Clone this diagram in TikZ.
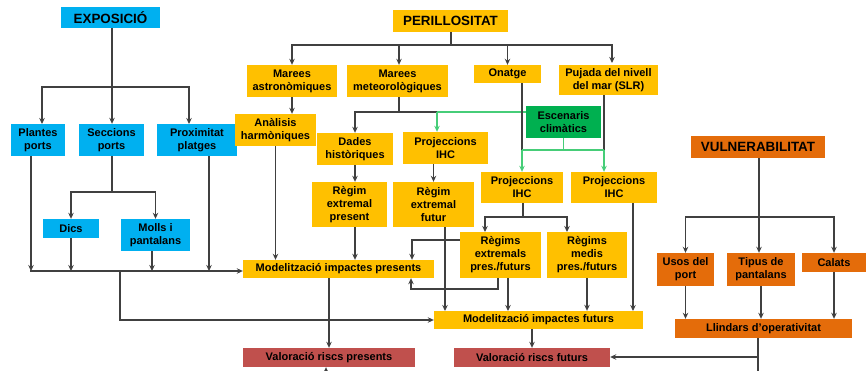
\documentclass[tikz,border=0pt]{standalone}
\usepackage{fontspec}
\setmainfont{Liberation Sans}
\usetikzlibrary{arrows.meta}
\definecolor{cblue}{HTML}{00B0F0}
\definecolor{cyel}{HTML}{FFC000}
\definecolor{cgreen}{HTML}{00B050}
\definecolor{corange}{HTML}{E46C0A}
\definecolor{cred}{HTML}{C0504D}
\definecolor{cline}{HTML}{404040}
\definecolor{cgline}{RGB}{70,205,120}
\begin{document}
\begin{tikzpicture}[x=1pt,y=-1pt,
  box/.style={inner sep=0pt,align=center,text=black,font=\fontsize{11}{13}\selectfont\bfseries},
  head/.style={box,font=\fontsize{13.4}{15}\selectfont\bfseries},
  bl/.style={fill=cblue},
  ye/.style={fill=cyel},
  gr/.style={fill=cgreen},
  orb/.style={fill=corange},
  rd/.style={fill=cred},
  ln/.style={draw=cline,line width=1.4pt},
  arr/.style={ln,-{Stealth[length=6pt,width=5.5pt]}},
  gln/.style={draw=cgline,line width=1.4pt},
  garr/.style={gln,-{Stealth[length=6pt,width=5.5pt]}}]
\useasboundingbox (0,0) rectangle (866,371);

% ---- EXPOSICIO ----
\node[head,bl,minimum width=99,minimum height=21] (expo) at (110.5,17.5) {EXPOSICIÓ};
\node[box,bl,minimum width=54,minimum height=32] (plantes) at (38,140) {Plantes\\ports};
\node[box,bl,minimum width=65,minimum height=32] (seccions) at (111.5,140) {Seccions\\ports};
\node[box,bl,minimum width=80,minimum height=32] (proxim) at (197,140) {Proximitat\\platges};
\node[box,bl,minimum width=56,minimum height=19] (dics) at (71,228.5) {Dics};
\node[box,bl,minimum width=69,minimum height=32] (molls) at (155.5,235) {Molls i\\pantalans};

% ---- PERILLOSITAT ----
\node[head,ye,minimum width=115,minimum height=22] (perill) at (450.5,21) {PERILLOSITAT};
\node[box,ye,minimum width=90,minimum height=32] (mastro) at (292,81) {Marees\\astronòmiques};
\node[box,ye,minimum width=101,minimum height=32] (mmeteo) at (397.5,81) {Marees\\meteorològiques};
\node[box,ye,minimum width=67,minimum height=18] (onatge) at (507.5,74) {Onatge};
\node[box,ye,minimum width=99,minimum height=30] (pujada) at (608.5,80) {Pujada del nivell\\del mar (SLR)};
\node[box,ye,minimum width=81,minimum height=32] (analisis) at (275.5,130) {Anàlisis\\harmòniques};
\node[box,ye,minimum width=76,minimum height=32] (dades) at (355,149) {Dades\\històriques};
\node[box,ye,minimum width=85,minimum height=32] (proj1) at (445.5,148) {Projeccions\\IHC};
\node[box,gr,minimum width=75,minimum height=32] (escen) at (563.5,122) {Escenaris\\climàtics};
\node[box,ye,minimum width=82,minimum height=31] (proj3) at (522,187.5) {Projeccions\\IHC};
\node[box,ye,minimum width=86,minimum height=31] (proj4) at (614,187.5) {Projeccions\\IHC};
\node[box,ye,minimum width=75,minimum height=45] (rpres) at (349.5,204.5) {Règim\\extremal\\present};
\node[box,ye,minimum width=81,minimum height=45] (rfut) at (433.5,204.5) {Règim\\extremal\\futur};
\node[box,ye,minimum width=81,minimum height=46] (rext) at (500.5,255) {Règims\\extremals\\pres./futurs};
\node[box,ye,minimum width=80,minimum height=46] (rmed) at (587,255) {Règims\\medis\\pres./futurs};
\node[box,ye,minimum width=191,minimum height=18] (modp) at (338.5,269) {Modelització impactes presents};
\node[box,ye,minimum width=209,minimum height=18] (modf) at (538.5,320) {Modelització impactes futurs};
\node[box,rd,minimum width=172,minimum height=19] (valp) at (329,357.5) {Valoració riscs presents};
\node[box,rd,minimum width=156,minimum height=19] (valf) at (532,357.5) {Valoració riscs futurs};

% ---- VULNERABILITAT ----
\node[head,orb,minimum width=134,minimum height=22] (vuln) at (758,147) {VULNERABILITAT};
\node[box,orb,minimum width=57,minimum height=33] (usos) at (685.5,269.5) {Usos del\\port};
\node[box,orb,minimum width=68,minimum height=33] (tipus) at (761,269.5) {Tipus de\\pantalans};
\node[box,orb,minimum width=64,minimum height=19] (calats) at (834,262.5) {Calats};
\node[box,orb,minimum width=177,minimum height=19] (llind) at (763.5,328.5) {Llindars d’operativitat};

% ---- junction coordinates ----
\coordinate (eb) at (112,87);
\coordinate (ta1) at (42,124);
\coordinate (ta3) at (189,124);
\coordinate (sb) at (112,192);
\coordinate (b1) at (31,271);
\coordinate (b2) at (71,271);
\coordinate (b3) at (152,271);
\coordinate (b4) at (209,271);
\coordinate (b5) at (120,271);
\coordinate (pb) at (451,45);
\coordinate (tp4) at (612,63);
\coordinate (mb) at (399,112);
\coordinate (gj) at (437,112);
\coordinate (gb1) at (522,150);
\coordinate (gb2) at (604,150);
\coordinate (rfx) at (445,311);
\coordinate (p3b) at (523,217);
\coordinate (te1) at (485,232);
\coordinate (te2) at (567,232);
\coordinate (k1) at (412,240);
\coordinate (k2) at (498,289);
\coordinate (k3) at (411,289);
\coordinate (k4) at (508,311);
\coordinate (k5) at (633,311);
\coordinate (k6) at (326,371);
\coordinate (vb) at (759,217);
\coordinate (lb) at (758,357);
\coordinate (lbot) at (758,371);

% ---- exposicio connectors ----
\draw[ln] (expo.south -| eb) -- (eb);
\draw[arr] (eb) -| (ta1);
\draw[arr] (eb) -- (seccions.north -| eb);
\draw[arr] (eb) -| (ta3);
\draw[ln] (seccions.south -| sb) -- (sb);
\draw[arr] (sb) -| (dics.north);
\draw[arr] (sb) -| (molls.north);
\draw[arr] (plantes.south -| b1) -- (b1);
\draw[arr] (dics.south) -- (b2);
\draw[arr] (molls.south -| b3) -- (b3);
\draw[arr] (proxim.south -| b4) -- (b4);
\draw[arr] ([xshift=-1pt]b1) -- (modp.west |- b1);
\draw[arr] (b5) |- (modf.west);

% ---- perillositat connectors ----
\draw[ln] (perill.south -| pb) -- (pb);
\draw[arr] (pb) -| (mastro.north);
\draw[arr] (pb) -| (mmeteo.north -| mb);
\draw[arr] (pb) -| (onatge.north);
\draw[arr] (pb) -| (tp4);
\draw[arr] (mastro.south) -- (analisis.north -| mastro.south);
\draw[arr] (analisis.south) -- (modp.north -| analisis.south);
\draw[ln] (mmeteo.south -| mb) -- (mb);
\draw[arr] (mb) -| (dades.north);
\draw[ln] (mb) -- (gj);
\draw[gln] (escen.west |- gj) -- (gj);
\draw[garr] (gj) -- (proj1.north -| gj);
\draw[ln] (onatge.south -| gb1) -- (gb1);
\draw[ln] (pujada.south -| gb2) -- (gb2);
\draw[gln] (gb1) -- (gb2);
\draw[gln] (escen.south) -- (escen.south |- gb1);
\draw[garr] (gb1) -- (proj3.north -| gb1);
\draw[garr] (gb2) -- (proj4.north -| gb2);
\draw[arr] (dades.south) -- (rpres.north -| dades.south);
\draw[arr] (proj1.south -| rfut.north) -- (rfut.north);
\draw[arr] (rpres.south -| dades.south) -- (modp.north -| dades.south);
\draw[arr] (rfut.south -| rfx) -- (rfx);
\draw[ln] (proj3.south -| p3b) -- (p3b);
\draw[arr] (p3b) -| (te1);
\draw[arr] (p3b) -| (te2);
\draw[arr] (rext.west |- k1) -- (k1) -- (modp.north -| k1);
\draw[arr] (rext.south -| k2) -- (k2) -- (k3) -- (modp.south -| k3);
\draw[arr] (rext.south -| k4) -- (k4);
\draw[arr] (rmed.south) -- (modf.north -| rmed.south);
\draw[arr] (proj4.south -| k5) -- (k5);
\draw[arr] (modf.south -| valf.north) -- (valf.north);
\draw[arr] (modp.south -| valp.north) -- (valp.north);
\draw[arr] (k6) -- (valp.south -| k6);

% ---- vulnerabilitat connectors ----
\draw[ln] (vuln.south -| vb) -- (vb);
\draw[arr] (vb) -| (usos.north);
\draw[arr] (vb) -- (tipus.north -| vb);
\draw[arr] (vb) -| (calats.north);
\draw[arr] (usos.south) -- (llind.north -| usos.south);
\draw[arr] (tipus.south) -- (llind.north -| tipus.south);
\draw[arr] (calats.south) -- (llind.north -| calats.south);
\draw[ln] (llind.south -| lb) -- (lbot);
\draw[arr] (lb) -- (valf.east |- lb);
\end{tikzpicture}
\end{document}
